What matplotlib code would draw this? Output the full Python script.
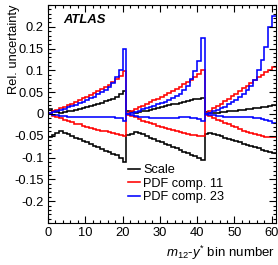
import numpy as np
import matplotlib
matplotlib.use("Agg")
import matplotlib.pyplot as plt
from matplotlib.ticker import MultipleLocator, FixedLocator, FuncFormatter

plt.rcParams['font.family'] = ['Liberation Sans', 'DejaVu Sans']
plt.rcParams['mathtext.fontset'] = 'custom'
plt.rcParams['mathtext.rm'] = 'Liberation Sans'
plt.rcParams['mathtext.it'] = 'Liberation Sans:italic'
plt.rcParams['axes.unicode_minus'] = False

# ---- data (bin number 0..60) ----
scale_up = [0.011, 0.008, 0.005, 0.003, 0.004, 0.006, 0.008, 0.010, 0.012, 0.014, 0.016, 0.019, 0.021, 0.024, 0.026, 0.029, 0.031, 0.034, 0.038, 0.045, 0.053,
            0.008, 0.005, 0.003, 0.004, 0.006, 0.008, 0.010, 0.012, 0.014, 0.016, 0.018, 0.020, 0.022, 0.024, 0.026, 0.028, 0.030, 0.032, 0.034, 0.035, 0.037,
            0.004, 0.002, 0.002, 0.003, 0.004, 0.005, 0.006, 0.007, 0.008, 0.009, 0.010, 0.011, 0.012, 0.013, 0.014, 0.016, 0.017, 0.018, 0.020]
scale_dn = [-0.052, -0.048, -0.044, -0.040, -0.043, -0.047, -0.051, -0.054, -0.058, -0.062, -0.065, -0.069, -0.073, -0.076, -0.080, -0.084, -0.087, -0.091, -0.095, -0.100, -0.111,
            -0.048, -0.045, -0.041, -0.043, -0.047, -0.050, -0.054, -0.058, -0.061, -0.065, -0.069, -0.072, -0.076, -0.079, -0.083, -0.087, -0.090, -0.094, -0.097, -0.100, -0.105,
            -0.047, -0.044, -0.046, -0.048, -0.051, -0.054, -0.057, -0.060, -0.062, -0.065, -0.068, -0.071, -0.073, -0.076, -0.079, -0.082, -0.085, -0.088, -0.090]
pdf11_up = [0.002, 0.006, 0.010, 0.013, 0.017, 0.020, 0.024, 0.028, 0.032, 0.036, 0.040, 0.044, 0.048, 0.052, 0.057, 0.062, 0.067, 0.073, 0.080, 0.088, 0.098,
            0.003, 0.007, 0.011, 0.015, 0.019, 0.023, 0.027, 0.031, 0.035, 0.039, 0.043, 0.048, 0.053, 0.058, 0.063, 0.068, 0.073, 0.079, 0.085, 0.092, 0.100,
            0.003, 0.008, 0.013, 0.018, 0.024, 0.029, 0.035, 0.041, 0.047, 0.053, 0.059, 0.065, 0.071, 0.077, 0.084, 0.090, 0.096, 0.102, 0.108]
pdf11_dn = [-0.001, -0.004, -0.007, -0.010, -0.013, -0.016, -0.019, -0.022, -0.024, -0.027, -0.029, -0.031, -0.034, -0.036, -0.038, -0.040, -0.042, -0.044, -0.046, -0.048, -0.050,
            -0.002, -0.005, -0.008, -0.012, -0.015, -0.018, -0.021, -0.024, -0.027, -0.029, -0.032, -0.035, -0.037, -0.040, -0.042, -0.044, -0.046, -0.048, -0.049, -0.050, -0.050,
            -0.002, -0.005, -0.009, -0.013, -0.016, -0.020, -0.023, -0.027, -0.030, -0.034, -0.038, -0.041, -0.044, -0.047, -0.049, -0.051, -0.052, -0.052, -0.052]
pdf23_up = [0.002, 0.004, 0.006, 0.009, 0.012, 0.015, 0.018, 0.021, 0.025, 0.028, 0.032, 0.036, 0.040, 0.045, 0.050, 0.056, 0.062, 0.070, 0.085, 0.100, 0.148,
            0.001, 0.003, 0.005, 0.008, 0.011, 0.013, 0.016, 0.019, 0.022, 0.025, 0.028, 0.032, 0.036, 0.041, 0.047, 0.055, 0.065, 0.080, 0.098, 0.122, 0.175,
            0.001, 0.003, 0.006, 0.009, 0.013, 0.017, 0.022, 0.027, 0.033, 0.039, 0.046, 0.055, 0.065, 0.078, 0.100, 0.125, 0.153, 0.200, 0.225]
pdf23_dn = [-0.001, -0.002, -0.003, -0.004, -0.005, -0.006, -0.006, -0.007, -0.007, -0.007, -0.007, -0.007, -0.007, -0.007, -0.007, -0.007, -0.007, -0.008, -0.009, -0.010, -0.016,
            -0.001, -0.003, -0.004, -0.006, -0.007, -0.008, -0.009, -0.009, -0.010, -0.010, -0.010, -0.010, -0.009, -0.009, -0.008, -0.008, -0.008, -0.009, -0.010, -0.012, -0.016,
            -0.001, -0.002, -0.003, -0.004, -0.005, -0.006, -0.006, -0.007, -0.007, -0.007, -0.008, -0.008, -0.008, -0.009, -0.010, -0.012, -0.014, -0.017, -0.020]

labels = ["Scale", "PDF comp. 11", "PDF comp. 23"]
colors = ["black", "#ff0000", "#0000ff"]
yticks = [-0.2, -0.15, -0.1, -0.05, 0, 0.05, 0.1, 0.15, 0.2]
xticks = [0, 10, 20, 30, 40, 50, 60]

edges = np.arange(len(scale_up) + 1)

fig = plt.figure(figsize=(2.78, 2.65), dpi=100)
ax = fig.add_axes([48/278, 1-223/265, 227.5/278, 218/265])

series = [(scale_up, scale_dn), (pdf11_up, pdf11_dn), (pdf23_up, pdf23_dn)]
for (up, dn), lab, col in zip(series, labels, colors):
    ax.stairs(up, edges, color=col, lw=1.15, label=lab, baseline=None)
    ax.stairs(dn, edges, color=col, lw=1.15, baseline=None)

ax.set_xlim(0, 61)
ax.set_ylim(-0.25, 0.25)
ax.xaxis.set_major_locator(FixedLocator(xticks))
ax.xaxis.set_minor_locator(MultipleLocator(2))
ax.yaxis.set_major_locator(FixedLocator(yticks))
ax.yaxis.set_minor_locator(MultipleLocator(0.01))
ax.yaxis.set_major_formatter(FuncFormatter(lambda v, p: "%g" % round(v, 3)))
ax.tick_params(which='both', direction='in', top=True, right=True, labelsize=9.3, width=0.8)
ax.tick_params(which='major', length=5, pad=3)
ax.tick_params(which='minor', length=2.5)
for s in ax.spines.values():
    s.set_linewidth(0.8)

leg = ax.legend(loc='upper left', bbox_to_anchor=((128-48)/227.5, (223-164)/218),
                frameon=False, fontsize=9.2, handlelength=0.9, handletextpad=0.3,
                labelspacing=0.12, borderaxespad=0, borderpad=0)

ax.text((63-48)/227.5, (223-20)/218, "ATLAS", transform=ax.transAxes,
        fontsize=9.4, fontweight='bold', fontstyle='italic', ha='left', va='center')

fig.text(275/278, 1-253/265, r"$m_{12}$-$y^{*}$ bin number", ha='right', va='center', fontsize=9.5)
fig.text(14/278, 1-5/265, "Rel. uncertainty", rotation=90, ha='center', va='top', fontsize=9.3)

fig.savefig("out.png", dpi=100)
